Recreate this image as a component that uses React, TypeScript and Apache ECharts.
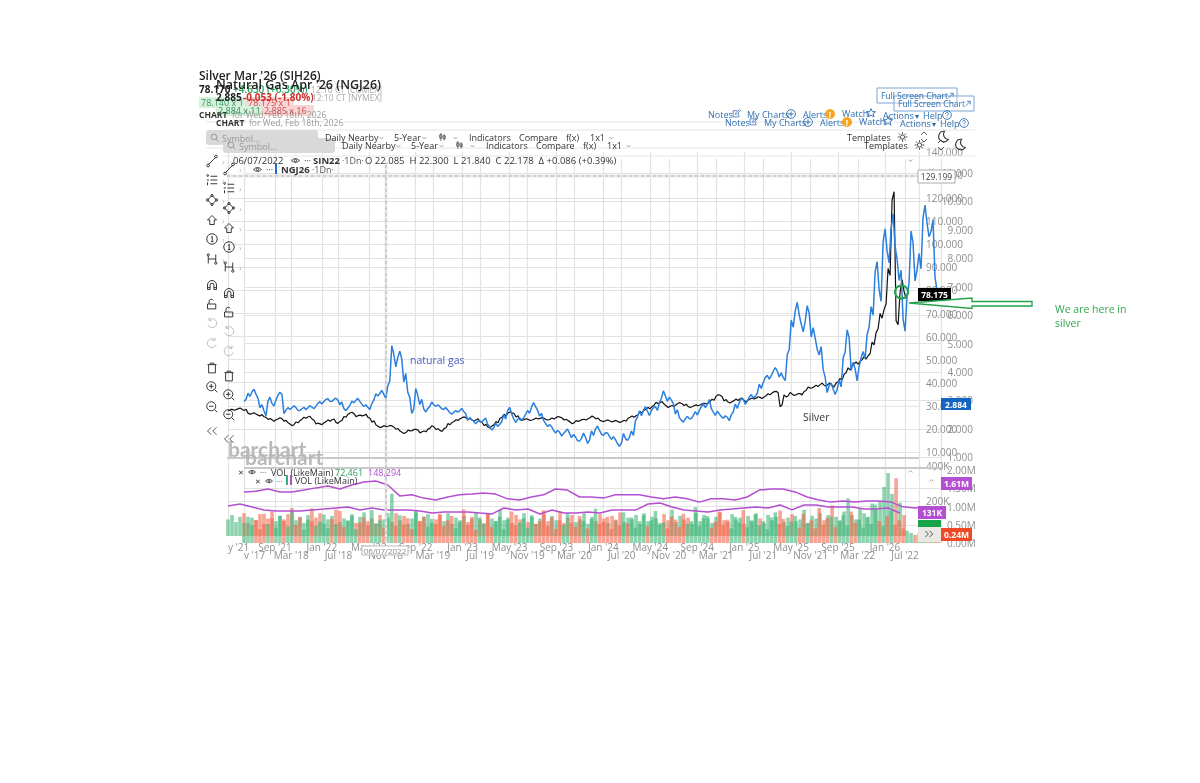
import React, { useEffect, useRef } from "react";
import * as echarts from "echarts";

// ---------- data ----------
const silverTicks = ["y '21","Sep '21","Jan '22","May '22","Sep '22","Jan '23","May '23","Sep '23","Jan '24","May '24","Sep '24","Jan '25","May '25","Sep '25","Jan '26"];
const gasTicks = ["v '17","Mar '18","Jul '18","Nov '18","Mar '19","Jul '19","Nov '19","Mar '20","Jul '20","Nov '20","Mar '21","Jul '21","Nov '21","Mar '22","Jul '22"];

const silverPrices = [
28,28.3,28.5,28.8,28.2,26.6,26.8,26.2,25.9,25.1,24.3,23.6,24.1,24.6,23.5,22.4,21.6,22.8,23.9,24.8,25.3,24.0,22.3,22.0,22.9,23.6,24.1,22.6,23.5,25.2,26.6,26.9,25.5,25.8,26.1,24.8,23.2,21.4,20.7,21.2,21.3,21.0,20.0,18.8,18.2,19.3,19.5,19.6,18.5,18.9,20.1,21.1,19.9,19.1,20.3,22.1,23.0,23.8,24.6,25.0,24.3,23.6,24.1,23.0,21.7,20.6,21.5,22.9,24.8,26,27.1,26.8,25.4,23.8,24.2,23.9,24.0,24.5,24.7,24.3,24.0,24.5,25.1,24.9,24.0,23.3,22.4,23.4,23.8,24.0,24.6,25.3,24.5,23.5,23.4,23.6,23.2,23.4,23.0,23.5,24.8,25.3,25.9,27.2,28.3,29.0,30.0,31.2,31.6,30.4,29.5,29.9,30.8,31.1,30.4,29.5,29.8,30.2,30.6,31.0,31.5,32.6,34.5,34.3,32.4,31.4,32.0,32.6,33.2,32.0,32.7,33.2,33.6,33.4,34.1,35.0,35.8,36.0,30,34.3,35.0,34.8,35.0,35.0,36.4,37.9,38.0,38.6,39.5,38.7,39.6,38.5,40.1,41.5,44,46,47.8,48.5,49.6,50.8,52.1,57,62.5,69,73,88,121,66,82,78];

const silverRanges = [
.6,.8,.5,.9,1,.7,.6,.8,.9,.5,.7,1,.6,.8,.5,.9,.7,.6,1,.8,.5,.9,.7,.6,.8,1,.5,.7,.9,.6,.8,1.1,.7,.5,.9,.6,1,.8,.5,.7,.6,.9,.5,.8,.7,.6,.9,.5,.8,.6,.7,1,.5,.8,.6,.9,.7,.5,.8,.6,1,.7,.9,.5,.8,.6,.7,.9,.6,1,.8,.5,.9,.7,.6,.8,.5,.7,.6,.9,.5,.7,.8,.6,.5,.9,.7,.6,.8,.5,.7,1,.6,.5,.8,.7,.5,.9,.6,.7,.8,.9,.7,1,.8,1.1,.9,1,.8,1.2,.9,.7,1,.8,.9,.7,.8,.6,.9,.7,1,.8,1.1,.9,1,.7,.8,1,.6,.9,.8,.7,1,.8,.9,.7,1,.8,1.2,1.5,2.5,1,.8,.9,.7,.8,1,.9,1.1,.8,1,1.2,.9,1.3,1.1,1.5,1.2,1.6,1.4,1.8,1.5,2,3,3.5,4,5,6,3,9,5,4];

const gasPrices = [
3.0,3.2,3.35,3.15,2.8,2.55,3.05,2.85,3.1,3.25,2.6,2.72,2.78,2.7,2.68,2.72,2.78,2.74,2.85,2.92,3.0,3.02,3.0,3.05,2.9,2.68,2.78,2.95,3.04,2.92,2.82,2.72,2.95,3.2,3.3,3.15,3.6,4.78,4.35,4.6,3.8,3.2,2.62,3.3,2.95,2.65,2.75,2.9,2.82,2.75,2.72,2.62,2.55,2.62,2.68,2.58,2.35,2.3,2.22,2.26,2.35,2.12,2.0,2.15,2.2,2.42,2.7,2.45,2.28,2.35,2.45,2.6,2.85,2.72,2.5,2.25,2.12,2.02,1.9,1.82,1.88,1.92,1.75,1.65,1.62,1.78,1.55,1.85,2.05,1.88,1.82,1.8,1.68,1.55,1.45,1.75,1.65,1.85,2.35,2.55,2.72,2.55,2.7,2.72,3.0,3.25,3.05,2.95,2.6,2.35,2.3,2.4,2.42,2.55,2.72,2.82,2.95,2.65,2.55,2.48,2.42,2.35,2.55,2.8,3.0,2.95,3.05,3.15,3.2,3.5,3.72,3.82,3.95,4.1,3.9,3.75,4.7,5.7,6.3,5.85,5.6,6.2,5.4,5.0,4.75,3.95,3.4,3.5,3.3,3.6,4.6,5.35,4.2,3.9,4.35,4.6,5.45,6.15,7.7,6.7,8.8,8.05,9.3,8.2,7.4,5.65,6.9,8.75,7.4,7.9,9.65,9.0,9.15,7.1,6.7];

const gasRanges = [
.12,.2,.15,.25,.18,.3,.22,.16,.28,.14,.2,.1,.12,.16,.1,.14,.12,.1,.16,.13,.11,.15,.12,.1,.16,.12,.14,.1,.12,.16,.1,.13,.2,.14,.18,.22,.3,.5,.55,.45,.5,.3,.25,.4,.3,.18,.12,.16,.1,.14,.12,.15,.11,.1,.14,.12,.16,.1,.14,.12,.1,.16,.12,.2,.15,.24,.2,.28,.18,.14,.22,.16,.25,.2,.14,.18,.12,.2,.15,.22,.14,.26,.18,.22,.16,.24,.2,.28,.18,.22,.14,.2,.16,.24,.2,.3,.18,.25,.22,.28,.2,.24,.18,.22,.26,.3,.24,.2,.25,.16,.2,.14,.18,.2,.22,.25,.28,.2,.24,.16,.14,.2,.18,.26,.22,.28,.24,.2,.18,.25,.3,.22,.26,.2,.24,.18,.3,.4,.5,.55,.6,.45,.55,.65,.5,.45,.4,.35,.3,.4,.35,.45,.5,.7,.5,.4,.45,.5,.6,.7,.8,.7,.9,.75,.6,.7,.8,.7,.65,.9,.75,.8,.7,.8,.9,.7,.4];

const silverVolumes = [
95,120,80,110,130,75,105,90,125,70,100,140,85,115,95,125,160,90,110,75,120,85,105,130,70,95,115,150,80,100,90,125,75,110,135,85,100,70,120,95,105,80,130,90,115,70,100,145,85,110,125,75,95,120,85,130,70,105,90,115,80,110,135,95,70,125,100,85,150,90,105,75,120,95,130,80,110,70,100,125,85,115,90,140,75,105,120,80,95,130,70,110,85,125,100,75,115,90,135,80,105,95,120,70,130,85,110,100,75,125,90,150,80,115,95,105,70,130,85,120,100,75,110,135,90,80,125,95,105,70,115,85,130,100,75,120,90,110,145,80,105,125,85,95,150,75,115,100,130,90,120,175,110,90,140,215,120,95,160,130,110,185,150,200,280,360,240,330,190,120];

const gasVolumes = [
.55,.72,.48,.63,.38,.8,.52,.68,.42,.75,.6,.45,.86,.5,.7,.36,.64,.95,.47,.58,.78,.4,.66,.52,.88,.44,.6,.74,.38,.56,.7,.48,.9,.54,.62,.42,.82,1.35,.46,.76,.5,.68,.38,.84,.6,.72,.44,.66,.52,.8,.46,.62,.74,.4,.58,.92,.5,.66,.36,.7,.54,.8,.44,.6,.72,.38,.64,.86,.48,.56,.68,.42,.76,.52,.6,.9,.46,.7,.38,.62,.5,.82,.56,.44,.74,.6,.4,.66,.94,.52,.58,.72,.38,.64,.48,.84,.54,.7,.42,.6,.76,.46,.62,.88,.5,.56,.4,.72,.64,.44,.8,.52,.6,.98,.46,.68,.74,.42,.58,.86,.5,.64,.4,.72,.56,.9,.44,.62,.78,.48,.6,.38,.7,.84,.52,.66,.46,.58,.74,.42,.8,.54,.62,.4,.96,.5,.68,.72,.44,.6,.76,.48,.86,.56,.64,.42,.7,.52,1.05,.6,.46,.74,.88,.5,.62,.4,.34,.28,.22,.26,.3,.24,.27,.22,.25];

const silverVolAvg = [171,183,166,149,143,143,143,149,154,160,166,149,160,149,149,149,143,131,137,137,137,131,126,160,149,154,126,149,131,131,137,131,149,149,149,183,189,166,149,143,137,149,154,160,166,160,177,149,177,177,166,166,166,154,154,160,131];
const gasVolAvg = [1.40,1.42,1.48,1.40,1.40,1.45,1.51,1.56,1.48,1.59,1.67,1.70,1.59,1.29,1.32,1.23,1.18,1.26,1.32,1.34,1.37,1.34,1.21,1.18,1.26,1.32,1.48,1.45,1.26,1.26,1.23,1.32,1.32,1.32,1.26,1.21,1.26,1.21,1.12,1.21,1.21,1.18,1.26,1.45,1.48,1.48,1.40,1.26,1.18,1.12,1.15,1.12,1.15,1.15,1.12,0.99,0.96,0.99,0.99];

// sampling distance of the lists, in months
const SILVER_STEP = 0.341;
const GAS_STEP = 0.3384;
const SILVER_AVG_STEP = 1.023;
const GAS_AVG_STEP = 1.015;

// ---------- icons ----------
const icons: Record<string, string> = {
  trend: "M3 13L13 3M1 14a1.8 1.8 0 1 0 3.6 0a1.8 1.8 0 1 0-3.6 0M11.5 2a1.8 1.8 0 1 0 3.6 0a1.8 1.8 0 1 0-3.6 0",
  list: "M1 2a1.2 1.2 0 1 0 2.4 0a1.2 1.2 0 1 0-2.4 0M6 3h9M6 8h9M6 13h9M1 8h3M2 11v4",
  diamond: "M8 2L14 8L8 14L2 8ZM6.5 2a1.5 1.5 0 1 0 3 0a1.5 1.5 0 1 0-3 0M12.5 8a1.5 1.5 0 1 0 3 0a1.5 1.5 0 1 0-3 0M6.5 14a1.5 1.5 0 1 0 3 0a1.5 1.5 0 1 0-3 0M0.5 8a1.5 1.5 0 1 0 3 0a1.5 1.5 0 1 0-3 0",
  arrow: "M8 2L14 8H11V14H5V8H2Z",
  one: "M1 8a7 7 0 1 0 14 0a7 7 0 1 0-14 0M6.5 6L8.3 4.5V11.5M6.5 11.5H10",
  hook: "M3 4V14M13 2V12M3 8H13M1.5 2.5a1.5 1.5 0 1 0 3 0a1.5 1.5 0 1 0-3 0M11.5 13.5a1.5 1.5 0 1 0 3 0a1.5 1.5 0 1 0-3 0",
  magnet: "M2 14V8a6 6 0 0 1 12 0v6h-3.5V8a2.5 2.5 0 0 0-5 0v6ZM2 11.5h3.5M10.5 11.5H14",
  unlock: "M2 8h11v6.5H2ZM4 8V4.5a3 3 0 0 1 5.7-1.2",
  undo: "M4 4a6 6 0 1 1-1.5 6M4 1v3.5h3.5",
  redo: "M12 4a6 6 0 1 0 1.5 6M12 1v3.5h-3.5",
  trash: "M2 3.5h12M5.5 3.5V1.5h5v2M3.5 3.5v11h9v-11",
  zoomIn: "M7 1a6 6 0 1 0 0 12a6 6 0 1 0 0-12M11.5 11.5L15 15M4 7h6M7 4v6",
  zoomOut: "M7 1a6 6 0 1 0 0 12a6 6 0 1 0 0-12M11.5 11.5L15 15M4 7h6",
  left: "M7 3L2 8L7 13M14 3L9 8L14 13",
  right: "M2 3L7 8L2 13M9 3L14 8L9 13",
  eye: "M1 8Q8 1 15 8Q8 15 1 8ZM6 8a2 2 0 1 0 4 0a2 2 0 1 0-4 0",
  gear: "M5 8a3 3 0 1 0 6 0a3 3 0 1 0-6 0M8 1v3M8 12v3M1 8h3M12 8h3M3 3l2 2M11 11l2 2M13 3l-2 2M5 11l-2 2",
  moon: "M10 1a7 7 0 1 0 5 11a7 7 0 0 1-5-11Z",
  star: "M8 1L10.2 5.8H15.2L11.2 9L12.8 14.5L8 11.3L3.2 14.5L4.8 9L0.8 5.8H5.8Z",
  note: "M12 8v6H2V3h7M6 9.5V7.5L13 1L15 3L8 9.5Z",
  plus: "M1 8a7 7 0 1 0 14 0a7 7 0 1 0-14 0M4 8h8M8 4v8",
  help: "M1 8a7 7 0 1 0 14 0a7 7 0 1 0-14 0M5.8 6a2.2 2.2 0 1 1 3.3 2c-.8.5-1.1 1-1.1 2M8 11.5v1",
  search: "M7 2a5 5 0 1 0 0 10a5 5 0 1 0 0-10M10.5 10.5L15 15",
  down: "M2 5L8 11L14 5",
  up: "M2 11L8 5L14 11",
  expand: "M5 14L14 5M8 4.5h6.5V11",
  bars: "M5 1v14M3 4h4v6H3ZM11 3v11M9 6h4v5H9Z",
};
Object.keys(icons).forEach((k) => {
  echarts.graphic.registerShape("ic_" + k, echarts.graphic.extendPath(icons[k], {}) as any);
});

const FONT = "'Open Sans', sans-serif";
const icon = (name: string, x: number, y: number, size: number, stroke = "#333", lw = 1.3, fill = "none") => ({
  type: "ic_" + name, x, y, scaleX: size / 16, scaleY: size / 16, z: 60, silent: true,
  style: { fill, stroke, lineWidth: lw },
});
const txt = (x: number, y: number, text: string, o: any = {}) => ({
  type: "text", x, y, z: 60, silent: true,
  style: { text, fontFamily: FONT, fontSize: 9, fill: "#333", verticalAlign: "middle", align: "left", ...o },
});
const rect = (x: number, y: number, w: number, h: number, o: any = {}, z = 55) => ({
  type: "rect", z, silent: true, shape: { x, y, width: w, height: h, r: o.r || 0 }, style: { fill: o.fill ?? "#fff", stroke: o.stroke, lineWidth: o.lw ?? 1 },
});
const line = (x1: number, y1: number, x2: number, y2: number, stroke: string, lw = 1, z = 5, dash?: number[]) => ({
  type: "line", z, silent: true, shape: { x1, y1, x2, y2 }, style: { stroke, lineWidth: lw, lineDash: dash },
});

// shared frame of the two overlaid screenshots
function chrome(dx: number, dy: number) {
  const out: any[] = [];
  const tools: [string, number, string?][] = [
    ["trend", 161], ["list", 180], ["diamond", 200], ["arrow", 220], ["one", 239], ["hook", 259], ["magnet", 285],
    ["unlock", 304], ["undo", 323, "#bbb"], ["redo", 343, "#bbb"], ["trash", 368], ["zoomIn", 387], ["zoomOut", 407], ["left", 431, "#555"],
  ];
  tools.forEach(([n, y, c]) => {
    out.push(icon(n, 206 + dx, y - 6 + dy, 12, c || "#333", 1.3));
    if (n !== "left" && !["undo", "redo", "trash", "zoomIn", "zoomOut", "magnet", "unlock"].includes(n)) out.push(txt(222 + dx, y + dy, "›", { fill: "#bbb", fontSize: 9 }));
  });
  // top rules
  out.push(line(206 + dx, 122 + dy, 958 + dx, 122 + dy, "#e6e6e6", 1));
  out.push(line(206 + dx, 148 + dy, 958 + dx, 148 + dy, "#e6e6e6", 1));
  // symbol box
  out.push(rect(206 + dx, 130 + dy, 112, 15, { fill: "#d9d9d9", r: 3 }, dx ? 58 : 52));
  out.push(icon("search", 210 + dx, 133 + dy, 9, "#888", 1.4));
  out.push(txt(222 + dx, 138 + dy, "Symbol...", { fill: "#999" }));
  // toolbar
  const ty = 137.5 + dy;
  out.push(txt(325 + dx, ty, "Daily Nearby"));
  out.push(icon("down", 379 + dx, ty - 2, 5, "#666", 2));
  out.push(txt(394 + dx, ty, "5-Year"));
  out.push(icon("down", 422 + dx, ty - 2, 5, "#666", 2));
  out.push(icon("bars", 438 + dx, ty - 5, 9, "#444", 1.3));
  out.push(icon("down", 453 + dx, ty - 2, 5, "#666", 2));
  out.push(txt(469 + dx, ty, "Indicators"));
  out.push(txt(519 + dx, ty, "Compare"));
  out.push(txt(566 + dx, ty, "f(x)"));
  out.push(txt(590 + dx, ty, "1x1"));
  out.push(icon("down", 609 + dx, ty - 2, 5, "#666", 2));
  out.push(txt(847 + dx, ty, "Templates"));
  out.push(icon("gear", 897 + dx, ty - 6, 11, "#444", 1.4));
  out.push(icon("up", 920 + dx, ty - 8, 8, "#444", 1.8));
  out.push(icon("down", 920 + dx, ty - 1, 8, "#444", 1.8));
  out.push(icon("moon", 937 + dx, ty - 7, 12, "#333", 1.5));
  // links
  const BL = "#2f6fb0";
  const ly = 114 + dy;
  out.push(txt(708 + dx, ly, "Notes", { fill: BL }));
  out.push(icon("note", 732 + dx, ly - 5, 9, BL, 1.4));
  out.push(txt(747 + dx, ly, "My Charts", { fill: BL }));
  out.push(icon("plus", 786 + dx, ly - 5, 10, BL, 1.5));
  out.push(txt(803 + dx, ly, "Alerts", { fill: BL }));
  out.push({ type: "circle", z: 60, silent: true, shape: { cx: 830 + dx, cy: ly, r: 5 }, style: { fill: "#f5a623" } });
  const ex = txt(830 + dx, ly, "!", { fill: "#fff", align: "center", fontWeight: "bold", fontSize: 8 });
  ex.z = 61;
  out.push(ex);
  out.push(txt(842 + dx, ly - 1, "Watch", { fill: BL }));
  out.push(icon("star", 866 + dx, ly - 6, 10, BL, 1.5));
  out.push(txt(883 + dx, ly + 1, "Actions", { fill: BL }));
  out.push(txt(915 + dx, ly + 1, "▾", { fill: BL, fontSize: 8 }));
  out.push(txt(923 + dx, ly + 1, "Help", { fill: BL }));
  out.push(icon("help", 942 + dx, ly - 4, 10, BL, 1.4));
  // full screen
  out.push(rect(877 + dx, 88 + dy, 80, 15, { fill: "rgba(255,255,255,0.3)", stroke: "#7aa6d6" }, 58));
  out.push(txt(881 + dx, 95.5 + dy, "Full Screen Chart", { fill: "#2f6fb0", fontSize: 8.5 }));
  out.push(icon("expand", 946 + dx, 91 + dy, 8, "#2f6fb0", 1.6));
  // watermark
  out.push(txt(228 + dx, 448 + dy, "barchart", { fill: "#b9b9b9", fontSize: 21, fontWeight: "bold", fontFamily: "Lato, sans-serif" }));
  return out;
}

const graphics = () => {
  const g: any[] = [...chrome(0, 0), ...chrome(17, 8)];
  const top = (e: any) => { e.z = 63; return e; };
  // titles
  g.push(txt(199, 75, "Silver Mar '26 (SIH26)", { fontSize: 12, fontWeight: 600, fill: "#222" }));
  g.push(txt(199, 89, "78.170", { fontSize: 10, fontWeight: "bold", fill: "#222" }));
  g.push(txt(233, 89, "+4.630 (+6.30%)", { fontSize: 10, fontWeight: 600, fill: "#2b9e5f" }));
  g.push(txt(311, 89, "12:10 CT [COMEX]", { fontSize: 8.5, fill: "#aaa" }));
  g.push(rect(199, 97, 48, 11, { fill: "#d6f0dc" }, 54));
  g.push(rect(246, 97, 48, 11, { fill: "#f8d6d6" }, 54));
  g.push(txt(201, 102.5, "78.140 x 1", { fill: "#3a9a63" }));
  g.push(txt(248, 102.5, "78.175 x 1", { fill: "#c94a4a" }));
  g.push(txt(199, 114, "CHART", { fontWeight: "bold", fontSize: 8.5, fill: "#333" }));
  g.push(txt(232, 114, "for Wed, Feb 18th, 2026", { fill: "#999", fontSize: 8.5 }));

  g.push(txt(216, 84, "Natural Gas Apr '26 (NGJ26)", { fontSize: 12.5, fontWeight: 600, fill: "#222" }));
  g.push(txt(216, 97, "2.885", { fontSize: 10, fontWeight: "bold", fill: "#222" }));
  g.push(txt(243, 97, "-0.053 (-1.80%)", { fontSize: 10, fontWeight: "bold", fill: "#c9302c" }));
  g.push(txt(312, 97, "12:10 CT [NYMEX]", { fontSize: 8.5, fill: "#aaa" }));
  g.push(rect(216, 105, 52, 11, { fill: "#d6f0dc" }, 56));
  g.push(rect(262, 105, 52, 11, { fill: "#f8d6d6" }, 56));
  g.push(txt(218, 110.5, "2.884 x 11", { fill: "#3a8f5c" }));
  g.push(txt(264, 110.5, "2.885 x 16", { fill: "#c94a4a" }));
  g.push(txt(216, 122, "CHART", { fontWeight: "bold", fontSize: 8.5, fill: "#333" }));
  g.push(txt(249, 122, "for Wed, Feb 18th, 2026", { fill: "#999", fontSize: 8.5 }));

  // legend rows
  g.push(txt(233, 160.5, "06/07/2022", { fontSize: 9.5, fill: "#333" }));
  g.push(icon("eye", 291, 156, 9, "#333", 1.6));
  g.push(txt(304, 160, "···", { fontSize: 9 }));
  g.push(txt(313, 160.5, "SIN22", { fontSize: 9.5, fontWeight: "bold" }));
  g.push(txt(342, 160.5, "·1Dn·", { fill: "#555" }));
  g.push(txt(365, 160.5, "O 22.085  H 22.300  L 21.840  C 22.178  Δ +0.086 (+0.39%)", { fontSize: 9.5, fill: "#333", fontWeight: 500 }));
  g.push(icon("eye", 253, 165, 9, "#333", 1.6));
  g.push(txt(266, 169, "···", { fontSize: 9 }));
  g.push(rect(275, 164, 2, 10, { fill: "#1f6fd1" }, 60));
  g.push(txt(281, 169.5, "NGJ26", { fontSize: 9.5, fontWeight: "bold" }));
  g.push(txt(312, 169.5, "·1Dn·", { fill: "#555" }));
  g.push(icon("down", 908, 158, 5, "#666", 2));
  g.push(icon("down", 929, 167, 5, "#666", 2));

  // crosshair and separators
  g.push(line(227, 176, 936, 176, "#e8e8e8", 3, 4));
  g.push(line(227, 176, 919, 176, "#b5b5b5", 1, 6, [3, 3]));
  g.push(line(386, 165, 386, 543, "#e4e4e4", 2.5, 4));
  g.push(line(386, 165, 386, 543, "#b5b5b5", 1, 6, [3, 3]));
  g.push(line(227, 458, 919, 458, "#c9c9c9", 2, 6));
  g.push(line(244, 468, 941, 468, "#c9c9c9", 2, 6));

  // volume legends
  g.push(txt(238, 472, "✕", { fontSize: 7, fill: "#333" }));
  g.push(icon("eye", 248, 468, 8, "#333", 1.6));
  g.push(txt(260, 471, "···", { fontSize: 8 }));
  g.push(txt(271, 472, "VOL (LikeMain)", { fontSize: 9, fill: "#333" }));
  g.push(txt(335, 472, "72,461", { fontSize: 9, fill: "#2b9e5f" }));
  g.push(txt(368, 472, "148,294", { fontSize: 9, fill: "#b44fd1" }));
  g.push(txt(255, 481, "✕", { fontSize: 7, fill: "#333" }));
  g.push(icon("eye", 265, 477, 8, "#333", 1.6));
  g.push(txt(276, 480, "···", { fontSize: 8 }));
  g.push(rect(286, 475, 2, 10, { fill: "#2bb673" }, 60));
  g.push(rect(290, 475, 2, 10, { fill: "#b44fd1" }, 60));
  g.push(txt(295, 480.5, "VOL (LikeMain)", { fontSize: 9, fill: "#333" }));
  g.push(icon("up", 908, 469, 5, "#777", 2));
  g.push(icon("up", 929, 478, 5, "#777", 2));

  // price badges
  g.push(rect(918, 170, 37, 13, { fill: "#fff", stroke: "#aaa" }, 62));
  g.push(top(txt(936.5, 176.5, "129.199", { align: "center", fontSize: 8.5, fill: "#444" })));
  g.push(rect(918, 288, 33, 13, { fill: "#000" }, 62));
  g.push(top(txt(934.5, 294.5, "78.175", { align: "center", fontSize: 8.5, fill: "#fff", fontWeight: "bold" })));
  g.push(rect(941, 398, 30, 12, { fill: "#1565c0" }, 62));
  g.push(top(txt(956, 404, "2.884", { align: "center", fontSize: 8.5, fill: "#fff", fontWeight: "bold" })));
  g.push(rect(941, 477, 31, 13, { fill: "#b44fd1" }, 62));
  g.push(top(txt(956.5, 483.5, "1.61M", { align: "center", fontSize: 8.5, fill: "#fff", fontWeight: "bold" })));
  g.push(rect(918, 506, 28, 13, { fill: "#b44fd1" }, 62));
  g.push(top(txt(932, 512.5, "131K", { align: "center", fontSize: 8.5, fill: "#fff", fontWeight: "bold" })));
  g.push(rect(918, 520, 23, 12, { fill: "#16a34a" }, 62));
  g.push(rect(918, 527, 23, 15, { fill: "#e9e9e6" }, 63));
  const chev = icon("right", 924, 529, 10, "#555", 1.6);
  chev.z = 64;
  g.push(chev);
  g.push(rect(941, 528, 31, 13, { fill: "#ef4a25" }, 62));
  g.push(top(txt(956.5, 534.5, "0.24M", { align: "center", fontSize: 8.5, fill: "#fff", fontWeight: "bold" })));

  // date box
  g.push(rect(362, 546, 46, 9, { fill: "#fff", stroke: "#bbb" }, 62));
  g.push(top(txt(385, 550.5, "06/07/2022", { align: "center", fontSize: 8, fill: "#888" })));

  // annotations
  g.push(txt(410, 360, "natural gas", { fontSize: 10.5, fill: "#4a5ec2" }));
  g.push(txt(803, 417, "Silver", { fontSize: 10.5, fill: "#333" }));
  g.push(txt(1055, 309, "We are here in", { fontSize: 10.5, fill: "#2fa84f" }));
  g.push(txt(1055, 323, "silver", { fontSize: 10.5, fill: "#2fa84f" }));
  g.push({ type: "circle", z: 70, silent: true, shape: { cx: 901.5, cy: 292, r: 6.5 }, style: { fill: "none", stroke: "#22a34a", lineWidth: 2 } });
  g.push({
    type: "polygon", z: 70, silent: true,
    shape: { points: [[909, 303], [972, 298], [972, 301.5], [1032, 301.5], [1032, 306], [972, 306], [972, 308.5]] },
    style: { fill: "#fff", stroke: "#22a34a", lineWidth: 1.3 },
  });
  return g;
};

const GRID_LINE = { show: true, lineStyle: { color: "#e3e3e3", width: 1.2 }, showMinLine: false, showMaxLine: false };
const V_LINE = { show: true, lineStyle: { color: "#e3e3e3", width: 1.2 } };
const LABEL = { color: "#8e8e8e", fontSize: 10, fontFamily: FONT };

const xBase = (grid: number, min: number, max: number, labels: string[] | null, margin = 6) => ({
  type: "value", gridIndex: grid, min, max, interval: 4,
  axisLine: { show: false }, axisTick: { show: false },
  splitLine: V_LINE,
  axisLabel: labels
    ? { ...LABEL, margin, showMaxLabel: false, alignMinLabel: "left", formatter: (v: number) => labels[Math.round((v - min) / 4)] ?? "" }
    : { show: false },
});
const yBase = (grid: number, min: number, max: number, interval: number, fmt: (v: number) => string, extra: any = {}) => ({
  type: "value", gridIndex: grid, min, max, interval, position: "right",
  axisLine: { show: false }, axisTick: { show: false },
  splitLine: GRID_LINE,
  axisLabel: { ...LABEL, showMinLabel: false, showMaxLabel: false, formatter: fmt, ...extra },
});

const GREEN = "rgba(60,180,118,0.58)";
const RED = "rgba(240,100,70,0.58)";

// each sampled period is drawn between the two ends of its range, as the picture's daily line does
const zigzag = (values: number[], ranges: number[], start: number, step: number) => {
  const pts: number[][] = [];
  values.forEach((v, i) => {
    const r = (ranges[i] ?? 0) * 0.3;
    const x = start + i * step;
    const a = i % 2 === 0 ? v - r : v + r;
    const b = i % 2 === 0 ? v + r : v - r;
    pts.push([x, a], [x + step / 2, b]);
  });
  return pts;
};

export default function App() {
  const ref = useRef<HTMLDivElement>(null);
  useEffect(() => {
    document.body.style.margin = "0";
    const chart = echarts.init(ref.current!, undefined, { renderer: "svg" });
    const SILVER_MIN = 4, SILVER_MAX = 62.9, GAS_MIN = 8, GAS_MAX = 67.05;
    const silverLine = zigzag(silverPrices, silverRanges, SILVER_MIN, SILVER_STEP);
    const gasLine = zigzag(gasPrices, gasRanges, GAS_MIN, GAS_STEP);
    const sBars = silverVolumes.map((v, i) => ({
      value: [SILVER_MIN + i * SILVER_STEP, v],
      itemStyle: { color: i === 0 || silverPrices[i] >= silverPrices[i - 1] ? GREEN : RED },
    }));
    const gBars = gasVolumes.map((v, i) => ({
      value: [GAS_MIN + i * GAS_STEP, v],
      itemStyle: { color: i === 0 || gasPrices[i] >= gasPrices[i - 1] ? GREEN : RED },
    }));
    chart.setOption({
      animation: false,
      backgroundColor: "#fff",
      grid: [
        { left: 228, width: 691, top: 152, height: 323 },
        { left: 244, width: 697, top: 158.8, height: 327 },
        { left: 228, width: 691, top: 466, height: 70 },
        { left: 244, width: 697, top: 470, height: 73 },
      ],
      xAxis: [
        xBase(0, SILVER_MIN, SILVER_MAX, null),
        xBase(1, GAS_MIN, GAS_MAX, null),
        xBase(2, SILVER_MIN, SILVER_MAX, silverTicks, 6),
        xBase(3, GAS_MIN, GAS_MAX, gasTicks, 7),
      ],
      yAxis: [
        yBase(0, 0, 140, 10, (v) => v.toFixed(3), { margin: 7, showMaxLabel: true }),
        yBase(1, 0, 11.5, 1, (v) => v.toFixed(3), { margin: 32, align: "right" }),
        yBase(2, 0, 400, 200, (v) => `${v}K`, { margin: 7, showMaxLabel: true }),
        yBase(3, 0, 2, 0.5, (v) => `${v.toFixed(2)}M`, { margin: 6, showMinLabel: true, showMaxLabel: true }),
      ],
      graphic: { elements: graphics() },
      series: [
        { type: "bar", xAxisIndex: 2, yAxisIndex: 2, data: sBars, barWidth: 3.6, z: 2 },
        { type: "bar", xAxisIndex: 3, yAxisIndex: 3, data: gBars, barWidth: 3.6, z: 2 },
        { type: "line", xAxisIndex: 2, yAxisIndex: 2, data: silverVolAvg.map((v, i) => [SILVER_MIN + i * SILVER_AVG_STEP, v]), showSymbol: false, lineStyle: { color: "#b44fd1", width: 1.5 }, z: 3 },
        { type: "line", xAxisIndex: 3, yAxisIndex: 3, data: gasVolAvg.map((v, i) => [GAS_MIN + i * GAS_AVG_STEP, v]), showSymbol: false, lineStyle: { color: "#b44fd1", width: 1.5 }, z: 3 },
        { type: "line", xAxisIndex: 0, yAxisIndex: 0, data: silverLine, showSymbol: false, lineStyle: { color: "#111", width: 1.2 }, z: 4 },
        { type: "line", xAxisIndex: 1, yAxisIndex: 1, data: gasLine, showSymbol: false, lineStyle: { color: "#2b7fdd", width: 1.5 }, z: 5 },
      ],
    });
    return () => chart.dispose();
  }, []);
  return <div ref={ref} style={{ width: 1200, height: 783, position: "absolute", left: 0, top: 0, filter: "blur(0.3px)" }} />;
}
